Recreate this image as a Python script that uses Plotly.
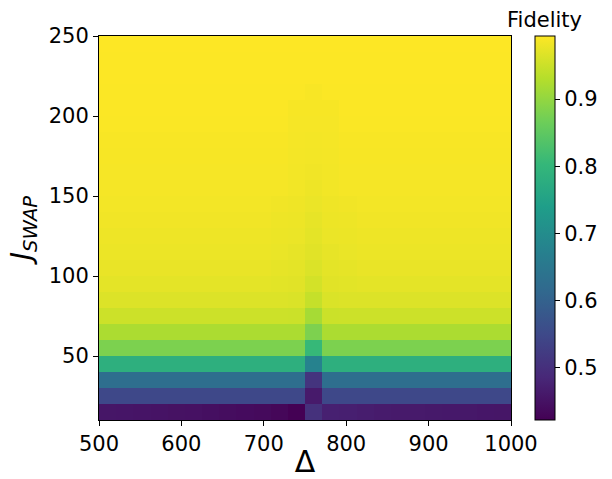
import numpy as np
import plotly.graph_objects as go

# Grid edges
delta_edges = list(np.linspace(500, 1000, 25))
j_edges = list(range(10, 260, 10))

# Generic fidelity per J row (rows from J=10-20 up to 240-250)
row_fidelity = [0.456, 0.548, 0.628, 0.782, 0.879, 0.922, 0.951, 0.965, 0.972, 0.976,
                0.979, 0.981, 0.983, 0.985, 0.987, 0.988, 0.989, 0.990, 0.991, 0.992,
                0.992, 0.993, 0.993, 0.994]

# Bottom row (J 10-20) across Delta columns
bottom_row = [0.456, 0.455, 0.453, 0.452, 0.449, 0.448, 0.445, 0.442, 0.439, 0.436, 0.431, 0.422,
              0.502, 0.473, 0.471, 0.468, 0.465, 0.463, 0.462, 0.461, 0.460, 0.459, 0.457, 0.456]

# Resonant column (Delta ~750-771)
resonant_col = [0.502, 0.462, 0.508, 0.675, 0.805, 0.880, 0.917, 0.945, 0.957, 0.964,
                0.969, 0.972, 0.975, 0.978, 0.981, 0.983, 0.985, 0.986, 0.988, 0.989,
                0.990, 0.993, 0.993, 0.994]

# Adjacent columns
adjacent_col = [None, 0.548, 0.628, 0.782, 0.879, 0.922, 0.950, 0.963, 0.969, 0.972,
                0.975, 0.978, 0.980, 0.982, 0.984, 0.985, 0.986, 0.987, 0.988, 0.989,
                0.992, 0.993, 0.993, 0.994]

second_col = [None, 0.548, 0.628, 0.782, 0.879, 0.922, 0.951, 0.965, 0.970, 0.974,
              0.977, 0.979, 0.981, 0.983, 0.987, 0.988, 0.989, 0.990, 0.991, 0.992,
              0.992, 0.993, 0.993, 0.994]

ncols = 24
z = []
for r in range(24):
    if r == 0:
        z.append(list(bottom_row))
        continue
    row = [row_fidelity[r]] * ncols
    row[10] = second_col[r]
    row[14] = second_col[r]
    row[11] = adjacent_col[r]
    row[13] = adjacent_col[r]
    row[12] = resonant_col[r]
    z.append(row)

font_family = "DejaVu Sans"

fig = go.Figure(go.Heatmap(
    x=delta_edges, y=j_edges, z=z,
    colorscale="Viridis",
    colorbar=dict(
        x=1.058, xanchor="left", xref="paper", xpad=0, ypad=0,
        y=0, yanchor="bottom", len=1, lenmode="fraction",
        thickness=20, thicknessmode="pixels",
        outlinecolor="black", outlinewidth=1,
        tickvals=[0.5, 0.6, 0.7, 0.8, 0.9],
        ticktext=["0.5", "0.6", "0.7", "0.8", "0.9"],
        ticks="outside", ticklen=5, tickcolor="black", tickwidth=1,
        tickfont=dict(family=font_family, size=21, color="black"),
    ),
    hoverongaps=False,
))

fig.add_annotation(
    text="Fidelity", x=1.082, y=1.0, xref="paper", yref="paper",
    xanchor="center", yanchor="bottom", yshift=2,
    showarrow=False, font=dict(family=font_family, size=21, color="black"),
)

fig.update_layout(
    width=612, height=479,
    margin=dict(l=99, r=101, t=36, b=59, autoexpand=False),
    paper_bgcolor="white", plot_bgcolor="white",
    font=dict(family=font_family, color="black"),
    xaxis=dict(
        range=[500, 1000], tickvals=[500, 600, 700, 800, 900, 1000],
        ticks="outside", ticklen=5, tickcolor="black", tickwidth=1,
        showline=True, linecolor="black", linewidth=1, mirror=True,
        showgrid=False, zeroline=False, automargin=False,
        tickfont=dict(family=font_family, size=21, color="black"),
        title=dict(text="Δ", font=dict(family=font_family, size=30, color="black"), standoff=5),
    ),
    yaxis=dict(
        range=[10, 250], tickvals=[50, 100, 150, 200, 250],
        ticks="outside", ticklen=5, tickcolor="black", tickwidth=1,
        showline=True, linecolor="black", linewidth=1, mirror=True,
        showgrid=False, zeroline=False, automargin=False,
        tickfont=dict(family=font_family, size=21, color="black"),
        title=dict(text="<i>J</i><sub><i>SWAP</i></sub>",
                   font=dict(family=font_family, size=28, color="black"), standoff=8),
    ),
)

fig.write_html("out.html", config={"displayModeBar": False},
               post_script="document.body.style.margin='0';")
